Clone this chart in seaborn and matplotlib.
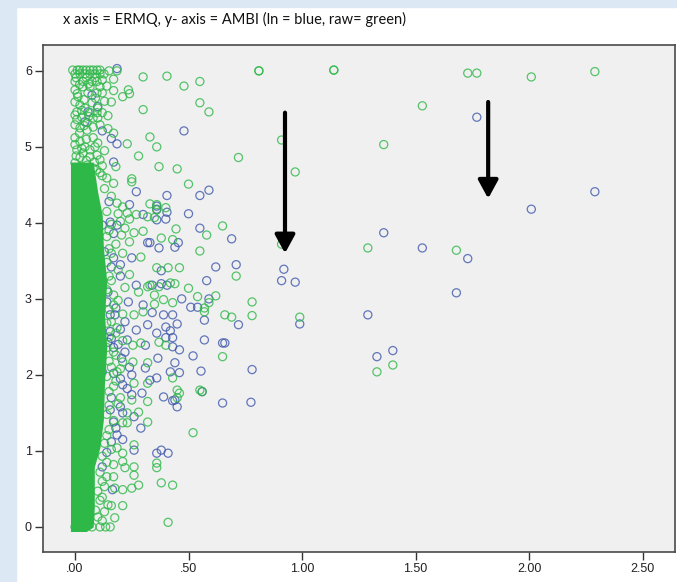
import pandas as pd
import matplotlib
matplotlib.use('Agg')
import matplotlib.pyplot as plt
import seaborn as sns
from matplotlib.patches import Rectangle

title = 'x axis = ERMQ, y- axis = AMBI (ln = blue, raw= green)'
x_ticks = [0.0, 0.5, 1.0, 1.5, 2.0, 2.5]
x_tick_labels = ['.00', '.50', '1.00', '1.50', '2.00', '2.50']
y_ticks = [0, 1, 2, 3, 4, 5, 6]

# raw AMBI (green) - upper part of the cloud near ERMQ = 0
raw_top = [
    (-0.01, 6.01), (0.01, 6.01), (0.02, 6.01), (0.035, 6.01), (0.05, 6.01), (0.066, 6.01),
    (0.08, 6.01), (0.097, 6.01), (0.11, 6.01),
    (0.0, 5.96), (0.022, 5.96), (0.044, 5.96), (0.066, 5.96), (0.088, 5.96), (0.11, 5.96), (0.128, 5.96),
    (0.0, 5.86), (0.035, 5.86), (0.075, 5.86), (0.097, 5.86),
    (0.035, 5.79), (0.066, 5.79), (0.11, 5.79),
    (0.057, 5.71), (0.097, 5.71), (0.12, 5.71), (0.0, 5.75), (0.013, 5.66),
    (0.0, 5.59), (0.022, 5.55), (0.044, 5.51), (0.008, 5.46), (0.03, 5.39), (0.066, 5.45),
    (0.08, 5.38), (0.008, 5.36), (0.053, 5.32), (0.097, 5.45), (0.10, 5.51), (0.075, 5.58),
    (0.0, 5.29), (0.022, 5.25), (0.053, 5.22), (0.08, 5.26), (0.11, 5.29),
    (0.0, 5.12), (0.022, 5.07), (0.044, 5.0), (0.008, 4.96), (0.035, 4.92), (0.066, 4.96),
    (0.088, 5.0), (0.022, 4.86), (0.066, 4.87), (0.097, 4.89), (0.11, 4.83),
    (0.0, 4.79), (0.022, 4.74), (0.053, 4.76), (0.08, 4.72), (0.11, 4.66), (0.14, 4.59),
    (0.013, 4.66), (0.066, 4.63),
    (0.005, 5.91), (0.05, 5.91), (0.09, 5.91), (0.12, 5.88), (0.02, 5.82), (0.06, 5.83), (0.14, 5.80),
    (0.01, 5.70), (0.04, 5.62), (0.09, 5.64), (0.13, 5.60), (0.03, 5.48), (0.06, 5.40), (0.10, 5.38),
    (0.12, 5.45), (0.0, 5.42), (0.04, 5.28), (0.02, 5.18), (0.05, 5.10), (0.08, 5.12), (0.10, 5.05),
    (0.0, 5.03), (0.03, 4.98), (0.13, 4.95), (0.05, 4.82), (0.085, 4.80), (0.03, 4.70), (0.095, 4.70),
    (0.12, 4.75), (0.005, 4.88),
]

# raw AMBI (green), ERMQ below 0.5
raw_mid = [
    (0.15, 6.00), (0.185, 6.00), (0.17, 5.89), (0.17, 5.74), (0.21, 5.66), (0.235, 5.75), (0.24, 5.70),
    (0.16, 5.59), (0.145, 5.41), (0.145, 5.24), (0.17, 5.18), (0.33, 5.13), (0.23, 5.04), (0.28, 4.88),
    (0.18, 4.74), (0.25, 4.58), (0.25, 4.54), (0.33, 4.25), (0.36, 4.24), (0.40, 4.20), (0.36, 4.17),
    (0.185, 4.26), (0.21, 4.21), (0.23, 4.13), (0.27, 4.11), (0.32, 4.08), (0.35, 4.07), (0.38, 3.80),
    (0.26, 3.87), (0.30, 3.89), (0.445, 3.92), (0.43, 3.78), (0.20, 4.02), (0.24, 4.05), (0.205, 3.84),
    (0.24, 3.75), (0.29, 3.55), (0.36, 3.41), (0.41, 3.41), (0.46, 3.41), (0.24, 3.32), (0.33, 3.18),
    (0.37, 3.16), (0.42, 3.21), (0.44, 3.20), (0.39, 2.99), (0.35, 2.93), (0.43, 2.95), (0.28, 3.09),
    (0.30, 2.83), (0.26, 2.79), (0.17, 2.92), (0.185, 2.62), (0.32, 3.16), (0.35, 3.05), (0.40, 2.39),
    (0.37, 2.43), (0.29, 2.42), (0.255, 2.39), (0.32, 2.16), (0.255, 2.17), (0.21, 2.17), (0.18, 2.26),
    (0.185, 2.04), (0.26, 1.89), (0.43, 1.96), (0.32, 1.89), (0.45, 1.80), (0.46, 1.76), (0.45, 1.70),
    (0.32, 1.65), (0.25, 1.67), (0.20, 1.70), (0.28, 1.51), (0.32, 1.38), (0.21, 1.37), (0.23, 1.37),
    (0.23, 1.50), (0.26, 1.08), (0.185, 1.04), (0.21, 0.97), (0.21, 0.86), (0.17, 0.82), (0.22, 0.78),
    (0.26, 0.79), (0.36, 0.84), (0.36, 0.78), (0.26, 0.68), (0.17, 0.66), (0.14, 0.66), (0.13, 0.53),
    (0.175, 0.51), (0.21, 0.49), (0.25, 0.51), (0.28, 0.55), (0.38, 0.58), (0.43, 0.55), (0.145, 0.29),
    (0.16, 0.28), (0.21, 0.28), (0.13, 0.20), (0.175, 0.12), (0.41, 0.06), (0.155, 0.0), (0.12, 0.39),
    (0.30, 5.49), (0.30, 5.92), (0.405, 5.93), (0.48, 5.80), (0.36, 5.00), (0.37, 4.74), (0.45, 4.71),
    (0.15, 3.9), (0.16, 3.6), (0.15, 3.3), (0.17, 3.05), (0.16, 2.7), (0.15, 2.5), (0.16, 2.1),
    (0.17, 1.85), (0.15, 1.6), (0.14, 1.2),
    (0.0, 0.0), (0.035, 0.0), (0.075, 0.0), (0.11, 0.0), (0.135, 0.0), (0.02, 0.13), (0.06, 0.12), (0.1, 0.13),
    (0.14, 4.15), (0.19, 4.12), (0.16, 3.98), (0.22, 3.93), (0.14, 3.82), (0.18, 3.72), (0.15, 3.66),
    (0.21, 3.60), (0.14, 3.48), (0.19, 3.38), (0.16, 3.24), (0.22, 3.15), (0.14, 3.12), (0.19, 2.98),
    (0.15, 2.86), (0.21, 2.80), (0.14, 2.68), (0.18, 2.55), (0.21, 2.45), (0.14, 2.36), (0.17, 2.30),
    (0.15, 2.18), (0.20, 2.08), (0.14, 1.98), (0.18, 1.92), (0.15, 1.78), (0.19, 1.62), (0.14, 1.48),
    (0.17, 1.40), (0.15, 1.28), (0.13, 1.10), (0.16, 1.02), (0.12, 0.93), (0.14, 0.85), (0.11, 0.72),
    (0.12, 0.60), (0.10, 0.47), (0.11, 0.35), (0.09, 0.22), (0.12, 0.08), (0.16, 4.35), (0.13, 4.45),
    (0.17, 4.52), (0.12, 4.62),
]

# raw AMBI (green), ERMQ from 0.5 up
raw_far = [
    (0.81, 6.00), (0.81, 6.00), (1.14, 6.01), (1.14, 6.01), (1.73, 5.97), (1.77, 5.97), (2.01, 5.92),
    (2.29, 5.99), (1.53, 5.54), (1.36, 5.03), (0.97, 4.67), (0.91, 5.09), (0.72, 4.86), (1.68, 3.64),
    (1.29, 3.67), (0.99, 2.76), (1.33, 2.04), (1.40, 2.13), (0.78, 2.96), (0.78, 2.78), (0.69, 2.76),
    (0.66, 2.79), (0.71, 3.30), (0.65, 2.24), (0.65, 3.96), (0.62, 3.04), (0.58, 3.84), (0.55, 3.63),
    (0.55, 5.86), (0.55, 5.58), (0.59, 5.46), (0.50, 4.51), (0.50, 3.14), (0.54, 3.03), (0.57, 2.88),
    (0.59, 2.95), (0.57, 2.83), (0.55, 1.80), (0.56, 1.78), (0.52, 1.24), (0.91, 3.72),
]

# ln AMBI (blue), ERMQ below 0.5
ln_mid = [
    (0.405, 4.36), (0.455, 3.74), (0.37, 3.67), (0.36, 4.22), (0.40, 4.05), (0.47, 3.00), (0.45, 2.67),
    (0.46, 2.33), (0.44, 2.16), (0.46, 2.03), (0.45, 1.58), (0.39, 1.71), (0.43, 1.66), (0.40, 2.63),
    (0.42, 2.58), (0.40, 2.49), (0.43, 2.49), (0.43, 2.37), (0.38, 3.37), (0.38, 3.20), (0.36, 0.97),
    (0.38, 1.01), (0.41, 0.97), (0.29, 1.30), (0.155, 4.01), (0.185, 3.97), (0.33, 3.74), (0.44, 3.68),
    (0.25, 3.54), (0.20, 3.45), (0.27, 3.18), (0.34, 3.18), (0.405, 3.18), (0.235, 2.96), (0.30, 2.92),
    (0.34, 2.82), (0.39, 2.79), (0.43, 2.79), (0.32, 2.66), (0.36, 2.55), (0.27, 2.59), (0.23, 2.46),
    (0.31, 2.39), (0.365, 2.22), (0.31, 2.09), (0.25, 2.00), (0.33, 1.93), (0.36, 1.96), (0.42, 2.04),
    (0.205, 2.22), (0.17, 2.36), (0.155, 2.57), (0.176, 2.79), (0.145, 3.09), (0.17, 3.54), (0.24, 4.24),
    (0.405, 4.14), (0.30, 4.11), (0.36, 4.04), (0.32, 3.74), (0.21, 1.87), (0.25, 1.74), (0.295, 1.76),
    (0.44, 1.67), (0.21, 1.50), (0.26, 1.45), (0.185, 1.21), (0.26, 1.01), (0.17, 1.38), (0.155, 1.54),
    (0.12, 0.79), (0.165, 0.49), (0.185, 6.03), (0.10, 5.53), (0.12, 5.21), (0.16, 5.11), (0.185, 5.04),
    (0.17, 4.80), (0.27, 4.41), (0.36, 4.18), (0.057, 5.46), (0.044, 5.33), (0.075, 5.68),
    (0.12, 3.97), (0.13, 3.62), (0.12, 3.22), (0.14, 2.96), (0.155, 2.79), (0.145, 2.43), (0.12, 2.04),
    (0.15, 4.28), (0.17, 3.86), (0.20, 3.30), (0.16, 3.42), (0.18, 2.88), (0.22, 2.70), (0.20, 2.60),
    (0.16, 2.48), (0.19, 2.40), (0.22, 2.30), (0.24, 2.10), (0.17, 2.02), (0.20, 1.95), (0.23, 1.82),
    (0.16, 1.70), (0.20, 1.58), (0.18, 1.30), (0.16, 1.12), (0.21, 1.15), (0.14, 0.98),
]

# ln AMBI (blue), ERMQ from 0.5 up
ln_far = [
    (1.77, 5.39), (2.29, 4.41), (2.01, 4.18), (1.53, 3.67), (1.73, 3.53), (1.68, 3.08), (1.36, 3.87),
    (1.29, 2.79), (1.33, 2.24), (1.40, 2.32), (0.99, 2.67), (0.92, 3.39), (0.91, 3.24), (0.97, 3.22),
    (0.78, 2.07), (0.775, 1.64), (0.71, 3.45), (0.72, 2.66), (0.65, 1.63), (0.65, 2.42), (0.66, 2.42),
    (0.62, 3.42), (0.69, 3.79), (0.58, 3.24), (0.59, 3.00), (0.57, 2.72), (0.57, 2.46), (0.555, 2.05),
    (0.56, 1.78), (0.52, 2.25), (0.55, 3.93), (0.50, 4.12), (0.48, 5.21), (0.55, 4.36), (0.59, 4.43),
    (0.51, 2.89), (0.54, 2.89),
]

# saturated (solid) part of the raw cloud: y level and right edge in ERMQ
core_y = [-0.06, 0.0, 0.26, 0.53, 0.79, 1.05, 1.41, 1.9, 2.36, 2.79, 3.22, 3.67, 4.1, 4.4, 4.6, 4.8, 4.8]
core_right = [0.05, 0.08, 0.085, 0.085, 0.085, 0.11, 0.125, 0.13, 0.14, 0.13, 0.14, 0.125, 0.12, 0.10, 0.09, 0.08, -0.02]
core_left = -0.02

# arrows drawn on the chart
arrow_x = [0.925, 1.82]
arrow_top = [5.45, 5.59]
arrow_tip = [3.6, 4.32]

BLUE = '#3E58AC'
GREEN = '#2EB848'

raw = pd.DataFrame(raw_top + raw_mid + raw_far, columns=['ermq', 'ambi'])
ln = pd.DataFrame(ln_mid + ln_far, columns=['ermq', 'ambi'])

plt.rcParams['font.family'] = ['Liberation Sans', 'DejaVu Sans']

fig = plt.figure(figsize=(6.77, 5.82), dpi=100, facecolor='white')
fig.patches.append(Rectangle((0, 0), 16 / 677, 1, transform=fig.transFigure,
                             color='#dde8f5', zorder=0))
fig.patches.append(Rectangle((0, 1 - 7 / 582), 1, 7 / 582, transform=fig.transFigure,
                             color='#dde8f5', zorder=0))
fig.text(63 / 677, 1 - 19 / 582, title, ha='left', va='center', fontsize=10.5,
         family='Lato', color='#111111')

ax = fig.add_axes([43 / 677, 1 - 552 / 582, (675 - 43) / 677, (552 - 45) / 582])
ax.set_facecolor('#f0f0f0')

sns.scatterplot(data=ln, x='ermq', y='ambi', ax=ax, s=34, marker='o', facecolors='none',
                edgecolor=BLUE, linewidth=0.9, alpha=0.8, zorder=2)
ax.fill_betweenx(core_y, core_left, core_right, color=GREEN, lw=0, zorder=2.5)
sns.scatterplot(data=raw, x='ermq', y='ambi', ax=ax, s=34, marker='o', facecolors='none',
                edgecolor=GREEN, linewidth=0.9, alpha=0.8, zorder=3)

for xa, yt, yb in zip(arrow_x, arrow_top, arrow_tip):
    ax.annotate('', xy=(xa, yb), xytext=(xa, yt),
                arrowprops=dict(arrowstyle='-|>,head_length=0.55,head_width=0.3',
                                color='black', lw=3, mutation_scale=20,
                                shrinkA=0, shrinkB=0), zorder=5)

ax.set_xlim(-0.141, 2.643)
ax.set_ylim(-0.33, 6.34)
ax.set_xticks(x_ticks)
ax.set_xticklabels(x_tick_labels)
ax.set_yticks(y_ticks)
ax.set_xlabel('')
ax.set_ylabel('')
ax.tick_params(direction='out', length=6, width=1, color='#333333',
               labelsize=9, labelcolor='#222222', pad=2)
for sp in ax.spines.values():
    sp.set_color('#4a4a4a')
    sp.set_linewidth(1.2)

fig.savefig('out.png', dpi=100, facecolor=fig.get_facecolor())
